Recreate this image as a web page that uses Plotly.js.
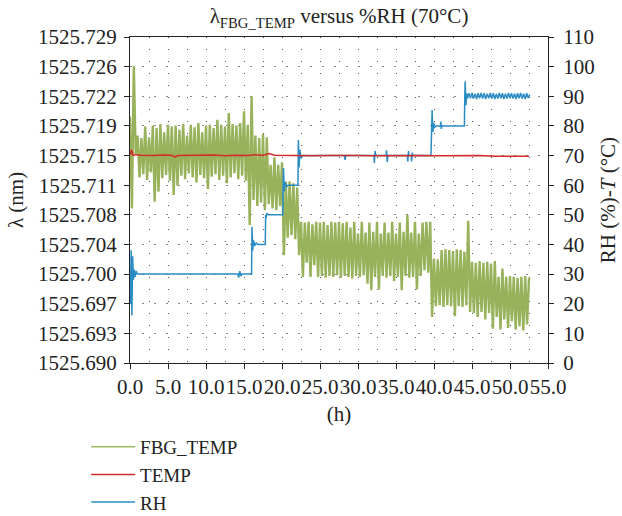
<!DOCTYPE html>
<html>
<head>
<meta charset="utf-8">
<script src="https://cdn.plot.ly/plotly-3.0.1.min.js"></script>
<style>html,body{margin:0;padding:0;background:#fff;}#chart{width:622px;height:516px;}</style>
</head>
<body>
<div id="chart"></div>
<script>
// ---------- data ----------
const fbgStep = 0.25; // h between FBG samples
const fbgTemp = [
1525.7195,1525.7085,1525.7255,1525.7150,1525.7172,1525.7122,1525.7169,1525.7126,
1525.7183,1525.7119,1525.7170,1525.7128,1525.7184,1525.7093,1525.7181,1525.7105,
1525.7186,1525.7121,1525.7176,1525.7125,1525.7185,1525.7118,1525.7183,1525.7101,
1525.7184,1525.7112,1525.7179,1525.7124,1525.7186,1525.7120,1525.7172,1525.7127,
1525.7185,1525.7122,1525.7182,1525.7116,1525.7187,1525.7125,1525.7176,1525.7121,
1525.7184,1525.7108,1525.7185,1525.7123,1525.7181,1525.7126,1525.7191,1525.7119,
1525.7185,1525.7124,1525.7183,1525.7115,1525.7199,1525.7122,1525.7186,1525.7127,
1525.7184,1525.7120,1525.7187,1525.7124,1525.7201,1525.7118,1525.7185,1525.7065,
1525.7219,1525.7095,1525.7172,1525.7088,1525.7169,1525.7092,1525.7174,1525.7083,
1525.7170,1525.7090,1525.7137,1525.7085,1525.7146,1525.7083,1525.7137,1525.7088,
1525.7140,1525.7029,1525.7117,1525.7050,1525.7117,1525.7053,1525.7115,1525.7048,
1525.7110,1525.7029,1525.7069,1525.7003,1525.7068,1525.7020,1525.7069,1525.7003,
1525.7066,1525.7017,1525.7069,1525.7003,1525.7068,1525.7004,1525.7069,1525.7002,
1525.7065,1525.7004,1525.7069,1525.7003,1525.7068,1525.7005,1525.7069,1525.7002,
1525.7067,1525.7004,1525.7069,1525.7003,1525.7062,1525.7001,1525.7069,1525.7004,
1525.7055,1525.7003,1525.7069,1525.7005,1525.7056,1525.6995,1525.7068,1525.6987,
1525.7057,1525.7003,1525.7069,1525.6988,1525.7055,1525.7004,1525.7068,1525.7002,
1525.7056,1525.7004,1525.7069,1525.6998,1525.7055,1525.7003,1525.7068,1525.6987,
1525.7057,1525.7004,1525.7077,1525.7002,1525.7056,1525.7003,1525.7069,1525.6988,
1525.7055,1525.7004,1525.7068,1525.7011,1525.7069,1525.7008,1525.7069,1525.6955,
1525.7025,1525.6968,1525.7024,1525.6969,1525.7035,1525.6967,1525.7036,1525.6969,
1525.7035,1525.6968,1525.7034,1525.6956,1525.7036,1525.6968,1525.7035,1525.6967,
1525.7033,1525.6969,1525.7070,1525.6961,1525.7021,1525.6960,1525.7020,1525.6955,
1525.7022,1525.6961,1525.7020,1525.6952,1525.7021,1525.6960,1525.7019,1525.6941,
1525.7022,1525.6955,1525.7003,1525.6940,1525.7013,1525.6952,1525.7003,1525.6942,
1525.7004,1525.6950,1525.7003,1525.6940,1525.7002,1525.6944,1525.7003,1525.6939,
1525.7004,1525.6946,1525.7002
];

const tempTime = [0,0.1,0.2,0.3,0.45,0.7,1.5,3,4.5,5.6,5.9,6.3,8,9.5,11,12.5,14,15.5,16.5,17.5,18.3,19,20.5,22,24,26,28,30,32,34,36,38,40,42,44,46,48,50,52.5];
const tempVal  = [70.2,70.5,72.0,70.8,70.0,70.3,70.1,70.0,70.2,70.0,69.5,70.0,70.1,70.0,70.2,69.9,70.1,70.0,70.3,70.0,70.7,70.1,70.0,70.1,69.9,70.0,70.1,70.0,69.9,70.0,70.1,70.0,69.9,70.0,69.9,70.0,69.8,69.9,69.8];

const rhTime = [0.05,0.15,0.25,0.35,0.45,0.55,0.65,0.8,0.95,1.2,5,10,14.2,14.3,14.45,14.6,14.7,16.0,16.05,16.15,16.25,16.4,16.6,16.8,17.8,17.85,17.9,18.0,18.2,20.1,20.15,20.2,20.3,20.4,20.6,20.8,22.1,22.15,22.25,22.35,22.5,22.7,28.2,28.3,28.4,32.1,32.15,32.25,32.35,33.7,33.75,33.85,33.95,36.5,36.55,36.65,36.7,37.0,37.05,37.15,37.2,39.6,39.7,39.75,39.85,39.95,40.1,40.3,40.85,40.9,40.95,41.05,44.0,44.05,44.1,44.2,44.3,44.4,44.6,44.8,45.0,45.2,45.4,45.6,45.8,46.0,46.2,46.4,46.6,46.8,47.0,47.2,47.4,47.6,47.8,48.0,48.2,48.4,48.6,48.8,49.0,49.2,49.4,49.6,49.8,50.0,50.2,50.4,50.6,50.8,51.0,51.2,51.4,51.6,51.8,52.0,52.2,52.4,52.6];
const rhVal  = [20,38,16,36,28,31.5,29,31,30,30,30,30,30,28.8,31,29.3,30,30,46,38,41.5,39.5,40.5,40,40,50,49,50.5,50,50,60,65.8,58,61,59.5,60,60,75.2,66,72,69,70,70,68.5,70,70,67.5,71.5,70,70,71.8,67.8,70,70,68,71.5,70,70,68,71,70,70,80,85.4,78,81,79.5,80,80,81.5,79,80,80,90,95.1,87,91,89.2,91,89.3,91.1,89.2,90.9,89.1,91,89.3,91.1,89.2,91,89.1,90.9,89.3,91.1,89.2,91,89.1,90.8,89.2,91.1,89.3,91,89.1,90.9,89.2,91.1,89.3,91,89.2,90.9,89.1,91,89.3,91.1,89.2,90.9,89.1,91,89.4,90.6];

const leftTickText = ['1525.690','1525.693','1525.697','1525.700','1525.704','1525.708','1525.711','1525.715','1525.719','1525.722','1525.726','1525.729'];
const leftRange = [1525.690, 1525.729];
const rightRange = [0, 110];
const xRange = [0, 55];
const seriesNames = ['FBG_TEMP', 'TEMP', 'RH'];

// ---------- build ----------
const fbgTime = fbgTemp.map((v, i) => i * fbgStep);
const leftTickVals = leftTickText.map((s, k) => leftRange[0] + k * (leftRange[1] - leftRange[0]) / (leftTickText.length - 1));

const FONT = '"Liberation Serif", "Times New Roman", "DejaVu Serif", serif';
const GREEN = '#97b25a', RED = '#d42a2b', BLUE = '#2b8cc4';

const traces = [
  {x: fbgTime, y: fbgTemp, type: 'scatter', mode: 'lines', name: seriesNames[0], yaxis: 'y',
   line: {color: GREEN, width: 2.4, simplify: false}, showlegend: false},
  {x: rhTime, y: rhVal, type: 'scatter', mode: 'lines', name: seriesNames[2], yaxis: 'y2',
   line: {color: BLUE, width: 1.5, simplify: false}, legendrank: 3},
  {x: tempTime, y: tempVal, type: 'scatter', mode: 'lines', name: seriesNames[1], yaxis: 'y2',
   line: {color: RED, width: 1.5}, legendrank: 2},
  // legend key for the FBG trace (thin line, like the reference legend)
  {x: [null], y: [null], type: 'scatter', mode: 'lines', name: seriesNames[0], yaxis: 'y',
   line: {color: '#9fbd62', width: 1.5}, legendrank: 1, hoverinfo: 'skip'}
];

const layout = {
  width: 622, height: 516,
  margin: {l: 130, r: 74, t: 37, b: 153, pad: 0, autoexpand: false},
  paper_bgcolor: '#fff', plot_bgcolor: '#fff',
  font: {family: FONT, size: 21, color: '#222'},
  title: {text: 'λ<sub>FBG_TEMP</sub> versus %RH (70°C)', x: 0.5, xref: 'paper', xanchor: 'center',
          y: 0.969, yref: 'container', yanchor: 'middle', font: {family: FONT, size: 21, color: '#222'}},
  showlegend: true,
  legend: {x: -0.105, y: -0.199, xanchor: 'left', yanchor: 'top', bgcolor: 'rgba(0,0,0,0)',
           itemwidth: 44, font: {family: FONT, size: 19, color: '#222'}},
  xaxis: {range: xRange, tickmode: 'linear', tick0: 0, dtick: 5, tickformat: '.1f', tickangle: 0,
          ticks: 'outside', ticklen: 5, tickcolor: '#222', tickwidth: 1,
          showline: true, linecolor: '#222', linewidth: 1, mirror: true,
          showgrid: true, gridcolor: '#555', gridwidth: 1, griddash: '1px,11px',
          minor: {tickmode: 'linear', tick0: 0, dtick: 2.5, showgrid: true, gridcolor: '#555', gridwidth: 1, griddash: '1px,11px'},
          zeroline: false, title: {text: '(h)', standoff: 8, font: {family: FONT, size: 21}}},
  yaxis: {range: leftRange, tickmode: 'array', tickvals: leftTickVals, ticktext: leftTickText,
          ticks: 'outside', ticklen: 5, tickcolor: '#222', tickwidth: 1, ticklabelstandoff: 3,
          showline: true, linecolor: '#222', linewidth: 1,
          showgrid: true, gridcolor: '#888', gridwidth: 1, griddash: '2px,10px',
          zeroline: false, title: {text: 'λ (nm)', standoff: 8, font: {family: FONT, size: 21}}},
  yaxis2: {range: rightRange, overlaying: 'y', side: 'right', tickmode: 'linear', tick0: 0, dtick: 10,
           ticks: 'outside', ticklen: 5, tickcolor: '#222', tickwidth: 1, ticklabelstandoff: 5,
           showline: true, linecolor: '#222', linewidth: 1, showgrid: false, zeroline: false,
           title: {text: 'RH (%)-<i>T</i> (°C)', standoff: 6, font: {family: FONT, size: 21}}}
};

Plotly.newPlot('chart', traces, layout, {displayModeBar: false, staticPlot: true});
</script>
</body>
</html>
